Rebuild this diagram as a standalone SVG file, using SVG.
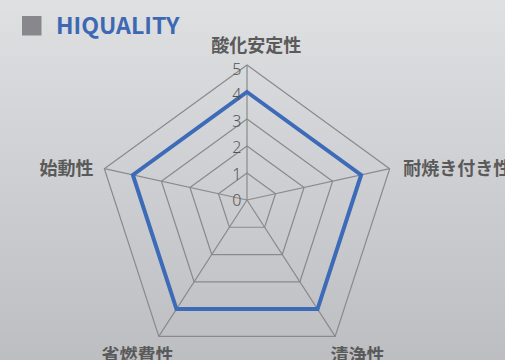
<svg xmlns="http://www.w3.org/2000/svg" width="505" height="360" viewBox="0 0 505 360">
<defs>
<linearGradient id="bg" x1="0" y1="0" x2="0" y2="1">
<stop offset="0" stop-color="#dfe0e2"/>
<stop offset="1" stop-color="#bdbec2"/>
</linearGradient>
<style>
.grid{fill:none;stroke:#8a8a8a;stroke-width:1.2}
.data{fill:none;stroke:#3d6bb8;stroke-width:4;stroke-linejoin:miter}
.lab{font-family:"Noto Sans CJK JP","Noto Sans",sans-serif;font-size:18px;font-weight:700;fill:#5a5a5a}
.num{font-family:"Noto Sans","Noto Sans CJK JP",sans-serif;font-size:16px;font-weight:300;fill:#555555;text-anchor:end}
.title{font-family:"Noto Sans CJK JP","Noto Sans",sans-serif;font-size:23px;font-weight:700;fill:#3d68b4}
</style>
</defs>
<rect width="505" height="360" fill="url(#bg)"/>
<g id="title">
<rect x="22" y="16" width="19.5" height="19.5" fill="#88888c"/>
<text class="title" x="56" y="34.3" textLength="123.5" lengthAdjust="spacingAndGlyphs">HIQUALITY</text>
</g>
<g id="grid">
<polygon class="grid" points="247,173 275.53,193.73 264.63,227.27 229.37,227.27 218.47,193.73"/>
<polygon class="grid" points="247,146 304.06,187.46 282.27,254.54 211.73,254.54 189.94,187.46"/>
<polygon class="grid" points="247,119 332.6,181.19 299.9,281.81 194.1,281.81 161.4,181.19"/>
<polygon class="grid" points="247,92 361.13,174.92 317.54,309.08 176.46,309.08 132.87,174.92"/>
<polygon class="grid" points="247,65 389.66,168.65 335.17,336.35 158.83,336.35 104.34,168.65"/>
</g>
<g id="connectors">
<line class="grid" x1="247" y1="200" x2="247" y2="65"/>
<line class="grid" x1="247" y1="200" x2="389.66" y2="168.65"/>
<line class="grid" x1="247" y1="200" x2="335.17" y2="336.35"/>
<line class="grid" x1="247" y1="200" x2="158.83" y2="336.35"/>
<line class="grid" x1="247" y1="200" x2="104.34" y2="168.65"/>
</g>
<g id="series">
<polygon class="data" points="247,92 361.13,174.92 317.54,309.08 176.46,309.08 132.87,174.92"/>
</g>
<g id="axis-values">
<text class="num" x="241.5" y="74.5">5</text>
<text class="num" x="241.5" y="99.5">4</text>
<text class="num" x="241.5" y="127">3</text>
<text class="num" x="241.5" y="153">2</text>
<text class="num" x="241.5" y="180">1</text>
<text class="num" x="241.5" y="205.5">0</text>
</g>
<g id="node-sanka"><text class="lab" x="256.3" y="52" text-anchor="middle">酸化安定性</text></g>
<g id="node-taiyaki"><text class="lab" x="403.3" y="175">耐焼き付き性</text></g>
<g id="node-seijo"><text class="lab" x="330.5" y="361.5">清浄性</text></g>
<g id="node-shonenpi"><text class="lab" x="101.5" y="361.5">省燃費性</text></g>
<g id="node-shido"><text class="lab" x="93.5" y="174.5" text-anchor="end">始動性</text></g>
</svg>
